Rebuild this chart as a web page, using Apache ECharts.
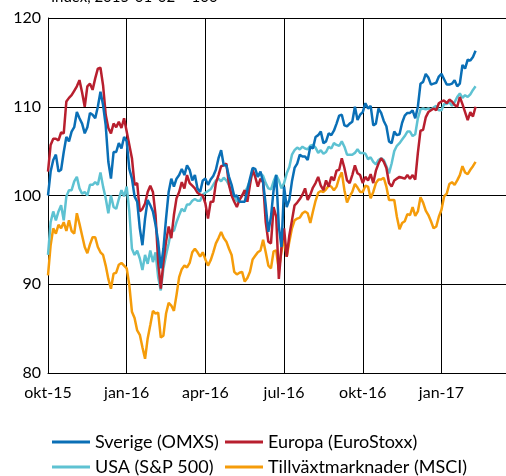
<!DOCTYPE html>
<html lang="sv" style="height: 100%">
<head>
  <meta charset="utf-8">
</head>
<body style="height: 100%; margin: 0">
  <div id="container" style="width: 506px; height: 476px"></div>

  <script type="text/javascript" src="https://fastly.jsdelivr.net/npm/echarts@6/dist/echarts.min.js"></script>

  <script type="text/javascript">
    // every 0.1 month, starting okt-15
    const sverige = [
      100.0,102.7,104.0,104.6,102.7,102.9,104.9,106.6,106.1,107.2,
      107.7,109.4,108.7,108.1,107.0,107.7,109.3,109.1,108.7,110.0,
      111.7,110.2,107.9,103.8,101.9,104.9,104.9,105.9,105.3,106.6,
      106.1,103.0,101.9,99.9,99.3,96.3,94.4,97.4,99.5,98.9,
      98.2,96.7,94.8,91.8,94.0,97.4,100.4,101.9,101.0,101.9,
      102.3,103.0,102.3,103.4,102.9,101.7,102.3,100.8,100.4,101.7,
      101.9,101.2,101.8,102.2,102.9,104.2,105.1,103.4,103.4,102.1,
      101.2,99.9,100.0,99.3,99.3,99.3,100.6,101.9,103.1,103.0,
      102.1,102.7,101.5,98.9,95.9,97.6,100.6,102.3,96.5,94.2,
      101.0,98.7,99.5,101.6,103.1,103.6,104.6,104.4,104.4,104.0,
      105.5,105.3,106.6,106.8,107.2,105.9,106.1,107.0,106.8,107.3,
      108.1,109.0,109.1,107.9,107.8,108.1,108.3,110.0,108.5,109.1,
      109.4,110.4,109.8,110.1,107.9,108.1,109.8,109.3,108.4,107.8,
      106.1,105.9,107.2,106.8,106.9,108.2,109.0,109.3,109.3,109.6,
      108.7,110.0,112.6,112.8,113.7,113.3,112.5,112.6,112.7,113.4,
      113.7,113.1,112.5,112.5,112.6,113.0,112.3,112.6,114.7,114.3,
      115.3,115.2,115.6,116.3
    ];
    const europa = [
      102.7,105.7,106.4,106.4,106.2,107.1,107.0,110.6,111.0,111.3,
      111.8,112.3,113.0,111.6,110.0,112.3,112.6,111.9,113.2,114.3,
      114.4,112.4,109.1,107.6,107.0,108.1,107.7,108.3,107.6,108.7,
      107.2,105.7,104.2,101.2,101.4,98.2,98.5,99.1,100.4,101.1,
      100.4,97.8,92.5,89.5,92.5,94.8,96.5,95.2,97.8,99.7,
      100.4,101.5,100.8,102.3,101.4,101.1,100.8,100.3,100.1,100.0,
      99.1,97.4,99.3,99.3,101.4,102.3,103.3,103.4,103.6,101.2,
      100.0,99.3,98.7,99.5,100.0,100.6,99.3,101.2,102.9,102.1,
      101.0,101.9,101.5,97.0,94.8,94.6,98.7,97.6,90.6,94.2,
      96.3,93.1,95.5,97.2,98.9,99.2,99.6,100.1,100.8,99.5,
      100.1,100.9,101.4,102.1,101.1,100.6,101.7,101.0,102.1,101.7,
      102.8,102.9,104.2,103.1,101.7,101.4,102.3,103.4,102.5,102.3,
      101.4,102.1,101.7,102.4,101.4,102.8,103.6,104.2,103.8,103.1,
      101.4,101.0,101.7,101.9,102.1,102.0,101.9,102.3,101.9,102.3,
      101.8,104.8,107.3,107.4,108.8,109.4,109.6,109.8,109.6,110.4,
      110.6,110.7,110.4,110.8,110.6,110.2,110.0,111.1,110.3,109.4,
      108.5,109.4,108.9,110.0
    ];
    const usa = [
      93.3,97.0,98.2,97.2,98.2,98.9,97.2,99.9,100.6,100.6,
      101.6,102.1,100.8,100.2,100.4,100.0,101.2,101.2,101.5,101.2,
      102.6,101.0,99.7,98.0,100.0,98.7,98.5,99.6,100.6,99.9,
      101.0,98.2,94.0,93.3,93.8,92.9,91.6,93.3,92.3,93.8,
      92.5,93.6,90.8,89.3,91.8,93.3,94.6,96.1,96.0,97.0,
      97.8,98.5,98.2,99.0,99.0,99.4,99.6,99.4,99.4,100.1,
      100.3,100.5,100.7,101.2,101.7,101.9,101.6,102.0,101.7,101.2,
      100.4,100.0,99.3,99.6,100.0,100.4,100.9,101.7,102.6,102.3,
      102.2,102.5,102.2,101.4,100.8,100.7,101.6,102.3,101.7,100.8,
      101.4,102.5,103.2,104.6,105.1,105.4,105.2,105.5,105.3,105.2,
      105.6,105.7,105.4,104.8,105.1,104.7,104.9,105.5,105.3,105.9,
      105.7,105.6,106.1,105.5,104.6,104.6,104.6,104.8,105.2,104.8,
      104.8,104.7,104.1,104.3,103.8,103.5,104.0,104.2,104.0,103.3,
      102.5,103.6,105.0,105.6,105.9,106.3,106.7,107.2,107.2,106.7,
      106.9,108.7,109.7,109.8,109.7,109.8,109.7,109.9,110.1,109.6,
      109.6,110.3,110.3,110.5,110.1,110.5,111.1,111.5,111.0,111.3,
      111.1,111.4,111.9,112.3
    ];
    const tillvaxt = [
      91.0,94.4,96.3,95.7,96.7,96.3,97.0,96.0,97.2,96.0,
      95.7,98.0,96.8,95.5,94.2,93.5,94.5,95.3,95.3,94.2,
      93.6,93.3,92.1,90.6,89.5,91.2,91.3,92.2,92.4,92.1,
      91.8,89.9,86.9,86.2,84.8,84.3,82.9,81.6,83.9,85.4,
      87.0,86.7,86.8,84.0,84.2,86.7,87.9,87.6,87.0,88.8,
      90.8,91.7,92.1,91.9,92.4,93.6,94.0,93.6,93.1,93.6,
      92.8,92.1,92.7,93.6,94.6,95.2,95.9,95.2,94.8,94.0,
      93.3,91.4,91.1,91.3,91.4,90.3,90.7,91.4,92.8,93.2,
      93.6,93.8,95.0,93.6,92.1,91.8,93.7,93.8,91.6,93.7,
      95.2,93.1,94.8,96.3,97.2,97.4,97.5,98.0,98.2,98.0,
      96.9,98.2,99.4,100.3,100.5,100.4,100.7,101.1,101.0,100.6,
      101.0,102.0,102.6,100.6,99.2,99.9,100.4,101.3,100.9,100.4,
      100.4,101.1,101.0,99.7,100.4,101.4,101.8,101.8,102.0,101.0,
      99.5,99.5,99.5,97.6,96.2,96.9,97.1,97.9,97.8,98.7,
      97.7,98.2,99.8,99.2,98.3,97.8,97.1,96.3,96.5,97.6,
      98.4,99.9,100.2,101.3,101.5,101.2,101.7,102.3,103.3,102.6,
      102.4,102.9,103.3,103.8
    ];
    const xLabels = ['okt-15', 'jan-16', 'apr-16', 'jul-16', 'okt-16', 'jan-17'];

    const pair = arr => arr.map((v, i) => [i / 10, v]);

    var dom = document.getElementById('container');
    var myChart = echarts.init(dom, null, { renderer: 'canvas' });

    const font = 'Lato, "Open Sans", sans-serif';

    // one legend per entry so the two columns line up as in the original
    function legendItem(name, left, top) {
      return {
        data: [name],
        left: left,
        top: top,
        padding: 0,
        itemWidth: 38,
        itemHeight: 3,
        icon: 'rect',
        textStyle: { fontSize: 18, color: '#000', lineHeight: 20, fontFamily: font }
      };
    }

    var option = {
      animation: false,
      textStyle: { fontFamily: font },
      title: {
        text: 'Index, 2015-01-02 = 100',
        left: 46,
        top: -15,
        textStyle: { fontSize: 15, fontWeight: 'normal', color: '#000', fontFamily: font }
      },
      legend: [
        legendItem('Sverige (OMXS)', 52, 432),
        legendItem('Europa (EuroStoxx)', 225, 432),
        legendItem('USA (S&P 500)', 52, 457),
        legendItem('Tillväxtmarknader (MSCI)', 225, 457)
      ],
      grid: { left: 48, right: 0, top: 18, bottom: 103 },
      xAxis: {
        type: 'value',
        min: 0,
        max: 17.46,
        interval: 3,
        axisLine: { lineStyle: { color: '#000', width: 1 } },
        axisTick: { show: false },
        splitLine: { show: true, lineStyle: { color: '#000', width: 1 } },
        axisLabel: {
          fontSize: 16,
          color: '#000',
          margin: 12,
          showMaxLabel: false,
          formatter: v => (v % 3 === 0 ? xLabels[v / 3] || '' : '')
        }
      },
      yAxis: {
        type: 'value',
        min: 80,
        max: 120,
        interval: 10,
        axisLine: { show: true, lineStyle: { color: '#000', width: 1 } },
        axisTick: { show: false },
        splitLine: { lineStyle: { color: '#000', width: 1 } },
        axisLabel: { fontSize: 16, color: '#000', margin: 7 }
      },
      series: [
        {
          name: 'Tillväxtmarknader (MSCI)', type: 'line', data: pair(tillvaxt),
          showSymbol: false, color: '#f59c0a', lineStyle: { width: 2.5 }
        },
        {
          name: 'USA (S&P 500)', type: 'line', data: pair(usa),
          showSymbol: false, color: '#5ec2d2', lineStyle: { width: 2.5 }
        },
        {
          name: 'Europa (EuroStoxx)', type: 'line', data: pair(europa),
          showSymbol: false, color: '#b81f2e', lineStyle: { width: 2.5 }
        },
        {
          name: 'Sverige (OMXS)', type: 'line', data: pair(sverige),
          showSymbol: false, color: '#0a6fb6', lineStyle: { width: 2.5 }
        }
      ]
    };

    myChart.setOption(option);
    window.addEventListener('resize', myChart.resize);
  </script>
</body>
</html>
